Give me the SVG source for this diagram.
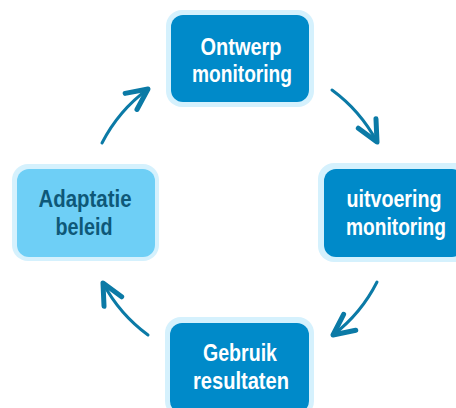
<svg xmlns="http://www.w3.org/2000/svg" width="456" height="408" viewBox="0 0 456 408">
<style>
.halo{fill:#D5F1FD}
.dark{fill:#008AC9}
.lite{fill:#6ECFF6}
.t{font-family:"Liberation Sans",Arial,sans-serif;font-weight:bold;font-size:24px;text-anchor:middle}
.tw{fill:#FFFFFF}
.td{fill:#0E5878}
.arr{fill:none;stroke:#0B7AA6;stroke-width:3;stroke-linecap:round}
</style>
<defs>
<marker id="ah" markerUnits="userSpaceOnUse" markerWidth="40" markerHeight="40" refX="0" refY="0" viewBox="-30 -20 40 40" orient="auto" overflow="visible">
<path d="M -21 -10 L 0 0 L -21 10" fill="none" stroke="#0B7AA6" stroke-width="5" stroke-linecap="round" stroke-linejoin="round"/>
</marker>
</defs>
<g id="connectors">
<path class="arr" d="M 102 143 A 154 154 0 0 1 148 89" marker-end="url(#ah)"/>
<path class="arr" d="M 332 90 A 154 154 0 0 1 377 142" marker-end="url(#ah)"/>
<path class="arr" d="M 377 282 A 154 154 0 0 1 333 335" marker-end="url(#ah)"/>
<path class="arr" d="M 148 335 A 154 154 0 0 1 103 283" marker-end="url(#ah)"/>
</g>
<g id="node-ontwerp">
<rect class="halo" x="166" y="10" width="148" height="97" rx="16"/>
<rect class="dark" x="171" y="15" width="138" height="87" rx="12"/>
<text class="t tw" x="241" y="55" textLength="81" lengthAdjust="spacingAndGlyphs">Ontwerp</text>
<text class="t tw" x="242" y="82" textLength="100" lengthAdjust="spacingAndGlyphs">monitoring</text>
</g>
<g id="node-uitvoering">
<rect class="halo" x="318" y="163" width="152" height="99" rx="16"/>
<rect class="dark" x="324" y="169" width="140" height="88" rx="12"/>
<text class="t tw" x="394" y="207" textLength="95" lengthAdjust="spacingAndGlyphs">uitvoering</text>
<text class="t tw" x="396" y="235" textLength="100" lengthAdjust="spacingAndGlyphs">monitoring</text>
</g>
<g id="node-gebruik">
<rect class="halo" x="165" y="317" width="149" height="100" rx="16"/>
<rect class="dark" x="170" y="323" width="139" height="90" rx="12"/>
<text class="t tw" x="240" y="361" textLength="74" lengthAdjust="spacingAndGlyphs">Gebruik</text>
<text class="t tw" x="241" y="389" textLength="96" lengthAdjust="spacingAndGlyphs">resultaten</text>
</g>
<g id="node-adaptatie">
<rect class="halo" x="12" y="164" width="147" height="97" rx="16"/>
<rect class="lite" x="17" y="169" width="138" height="88" rx="12"/>
<text class="t td" x="85" y="207" textLength="93" lengthAdjust="spacingAndGlyphs">Adaptatie</text>
<text class="t td" x="84" y="235" textLength="57" lengthAdjust="spacingAndGlyphs">beleid</text>
</g>
</svg>
